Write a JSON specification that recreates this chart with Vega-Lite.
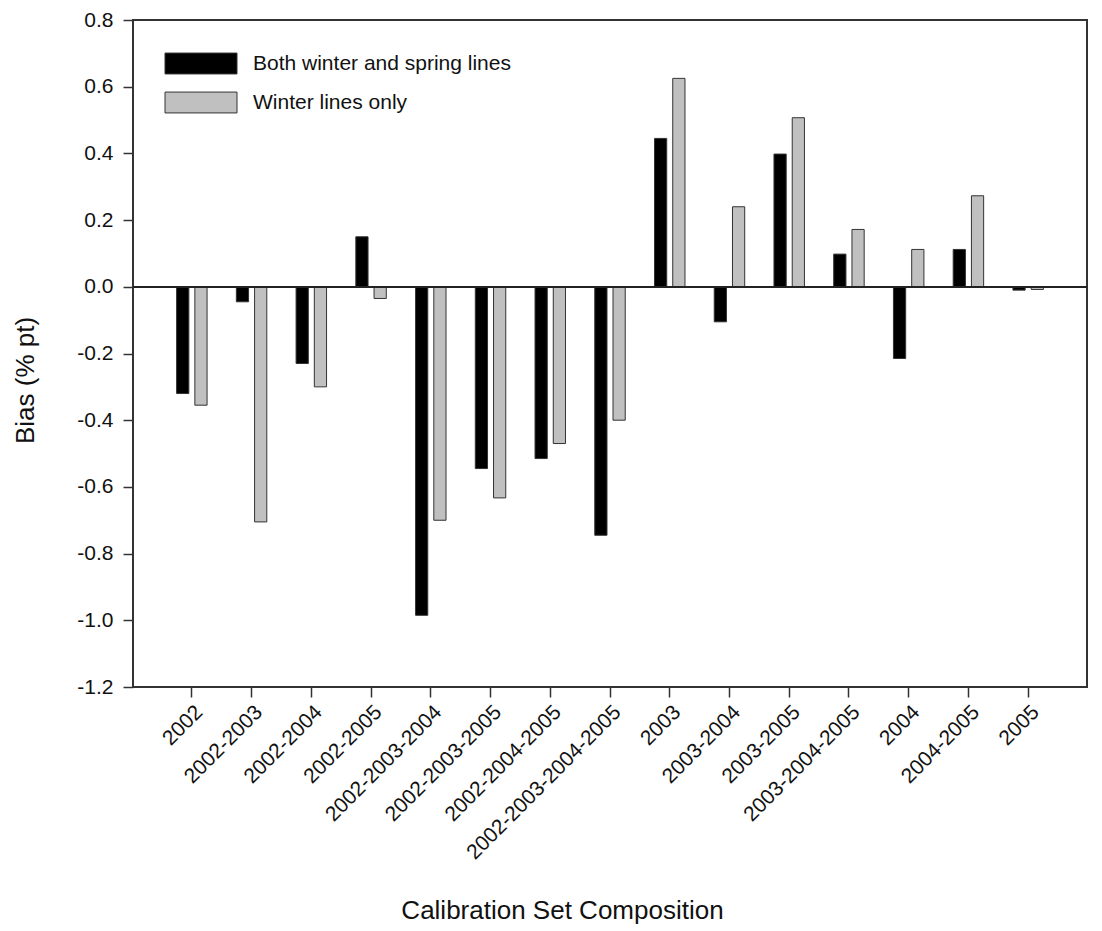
{
  "$schema": "https://vega.github.io/schema/vega-lite/v6.json",
  "autosize": {"type": "none"},
  "padding": {"left": 133, "top": 20, "right": 15, "bottom": 244},
  "width": 954,
  "height": 667,
  "background": "white",
  "config": {
    "font": "Liberation Sans",
    "view": {"stroke": "#333333", "strokeWidth": 2},
    "axis": {"grid": false, "domain": false, "tickColor": "#333333", "tickWidth": 1.5, "tickSize": 10, "labelColor": "#111111", "titleColor": "#111111", "labelFont": "Liberation Sans", "titleFont": "Liberation Sans", "titleFontWeight": "normal"}
  },
  "data": {
    "values": [
      {"set": "2002", "series": "Both winter and spring lines", "bias": -0.32},
      {"set": "2002", "series": "Winter lines only", "bias": -0.355},
      {"set": "2002-2003", "series": "Both winter and spring lines", "bias": -0.045},
      {"set": "2002-2003", "series": "Winter lines only", "bias": -0.705},
      {"set": "2002-2004", "series": "Both winter and spring lines", "bias": -0.23},
      {"set": "2002-2004", "series": "Winter lines only", "bias": -0.3},
      {"set": "2002-2005", "series": "Both winter and spring lines", "bias": 0.15},
      {"set": "2002-2005", "series": "Winter lines only", "bias": -0.035},
      {"set": "2002-2003-2004", "series": "Both winter and spring lines", "bias": -0.985},
      {"set": "2002-2003-2004", "series": "Winter lines only", "bias": -0.7},
      {"set": "2002-2003-2005", "series": "Both winter and spring lines", "bias": -0.545},
      {"set": "2002-2003-2005", "series": "Winter lines only", "bias": -0.633},
      {"set": "2002-2004-2005", "series": "Both winter and spring lines", "bias": -0.515},
      {"set": "2002-2004-2005", "series": "Winter lines only", "bias": -0.47},
      {"set": "2002-2003-2004-2005", "series": "Both winter and spring lines", "bias": -0.745},
      {"set": "2002-2003-2004-2005", "series": "Winter lines only", "bias": -0.4},
      {"set": "2003", "series": "Both winter and spring lines", "bias": 0.445},
      {"set": "2003", "series": "Winter lines only", "bias": 0.625},
      {"set": "2003-2004", "series": "Both winter and spring lines", "bias": -0.105},
      {"set": "2003-2004", "series": "Winter lines only", "bias": 0.24},
      {"set": "2003-2005", "series": "Both winter and spring lines", "bias": 0.398},
      {"set": "2003-2005", "series": "Winter lines only", "bias": 0.507},
      {"set": "2003-2004-2005", "series": "Both winter and spring lines", "bias": 0.098},
      {"set": "2003-2004-2005", "series": "Winter lines only", "bias": 0.172},
      {"set": "2004", "series": "Both winter and spring lines", "bias": -0.215},
      {"set": "2004", "series": "Winter lines only", "bias": 0.112},
      {"set": "2004-2005", "series": "Both winter and spring lines", "bias": 0.112},
      {"set": "2004-2005", "series": "Winter lines only", "bias": 0.273},
      {"set": "2005", "series": "Both winter and spring lines", "bias": -0.01},
      {"set": "2005", "series": "Winter lines only", "bias": -0.008}
    ]
  },
  "layer": [
    {
      "mark": {"type": "bar", "stroke": "#333333", "strokeWidth": 1},
      "encoding": {
        "x": {
          "field": "set", "type": "nominal", "sort": null,
          "scale": {"paddingInner": 0.49, "paddingOuter": 0.73},
          "axis": {
            "title": "Calibration Set Composition", "titleFontSize": 26,
            "titleX": 429, "titleY": 231, "titleAnchor": null, "titleAlign": "center", "titleBaseline": "alphabetic",
            "labelAngle": -45, "labelFontSize": 21, "labelPadding": 4, "labelLimit": 0
          }
        },
        "xOffset": {"field": "series", "type": "nominal", "scale": {"paddingInner": 0.33, "paddingOuter": 0}},
        "y": {
          "field": "bias", "type": "quantitative",
          "scale": {"domain": [-1.2, 0.8], "nice": false, "zero": false},
          "axis": {
            "title": "Bias (% pt)", "titleFontSize": 26,
            "titleX": -100, "titleY": 360, "titleAngle": -90, "titleAlign": "center", "titleBaseline": "alphabetic",
            "values": [-1.2, -1.0, -0.8, -0.6, -0.4, -0.2, 0, 0.2, 0.4, 0.6, 0.8],
            "labelExpr": "replace(format(datum.value, '.1f'), '\u2212', '-')",
            "labelFontSize": 21, "labelPadding": 10
          }
        },
        "fill": {
          "field": "series", "type": "nominal",
          "scale": {"domain": ["Both winter and spring lines", "Winter lines only"], "range": ["#000000", "#c0c0c0"]},
          "legend": {
            "title": null, "orient": "none", "legendX": 49.5, "legendY": 25, "padding": 0,
            "symbolType": "M-2,-0.58H2V0.58H-2Z", "symbolSize": 1296,
            "symbolStrokeColor": "#333333", "symbolStrokeWidth": 1, "symbolOpacity": 1,
            "labelFontSize": 21, "labelColor": "#111111", "labelOffset": 33.5, "labelLimit": 0, "rowPadding": 8
          }
        }
      }
    },
    {
      "mark": {"type": "rule", "color": "#222222", "strokeWidth": 1.5},
      "encoding": {"y": {"datum": 0}}
    }
  ]
}
